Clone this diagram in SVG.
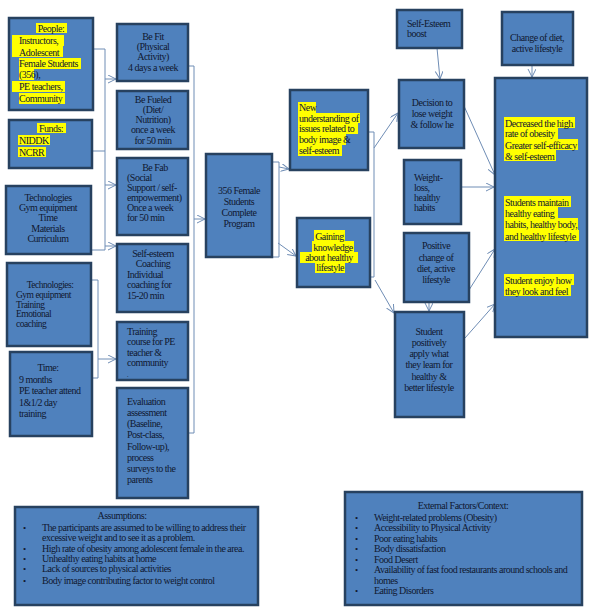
<svg xmlns="http://www.w3.org/2000/svg" width="599" height="615" viewBox="0 0 599 615">
<defs>
<style>
.box{fill:#4F81BD;stroke:#27415F;stroke-width:2.5}
.t{font-family:"Liberation Serif",serif;font-size:10px;letter-spacing:-0.5px;fill:#101830}
.c{text-anchor:middle}
.hl{fill:#FFFF00}
.conn{stroke:#6F8DB5;stroke-width:1;fill:none}
.bul{font-size:9px;letter-spacing:0}
</style>
<marker id="ah" markerWidth="9" markerHeight="9" refX="8" refY="4" orient="auto" markerUnits="userSpaceOnUse">
<path d="M0,0 L8,4 L0,8" fill="none" stroke="#6F8DB5" stroke-width="1"/>
</marker>
</defs>
<rect width="599" height="615" fill="#ffffff"/>

<g id="connectors">
<polyline class="conn" points="93,49 105,49 105,250 91,250"/>
<line class="conn" x1="92" y1="151" x2="105" y2="151" stroke-width="2"/>
<line class="conn" x1="105" y1="79" x2="116" y2="79" marker-end="url(#ah)"/>
<line class="conn" x1="105" y1="185" x2="116" y2="185" marker-end="url(#ah)"/>
<line class="conn" x1="105" y1="246" x2="116" y2="246" marker-end="url(#ah)"/>
<polyline class="conn" points="91,280 98,280 98,378 92,378"/>
<line class="conn" x1="98" y1="359" x2="116" y2="359" marker-end="url(#ah)"/>
<polyline class="conn" points="188,66 194,66 194,433 188,433"/>
<line class="conn" x1="194" y1="219" x2="205" y2="219" marker-end="url(#ah)"/>
<polyline class="conn" points="272,162 279,162 279,257 272,257"/>
<line class="conn" x1="279" y1="167" x2="289" y2="169" marker-end="url(#ah)"/>
<line class="conn" x1="278" y1="243" x2="296" y2="256" marker-end="url(#ah)"/>
<polyline class="conn" points="368,132 374,132 374,277 370,277"/>
<line class="conn" x1="374" y1="148" x2="398" y2="113" marker-end="url(#ah)"/>
<line class="conn" x1="375" y1="280" x2="394" y2="313" marker-end="url(#ah)"/>
<line class="conn" x1="437" y1="48" x2="440" y2="79" marker-end="url(#ah)"/>
<line class="conn" x1="532" y1="65" x2="532" y2="77" marker-end="url(#ah)"/>
<line class="conn" x1="464" y1="106" x2="495" y2="175" marker-end="url(#ah)"/>
<line class="conn" x1="461" y1="187" x2="494" y2="187" marker-end="url(#ah)"/>
<line class="conn" x1="469" y1="290" x2="495" y2="249" marker-end="url(#ah)"/>
<line class="conn" x1="429" y1="302" x2="429" y2="311" marker-end="url(#ah)"/>
<line class="conn" x1="465" y1="338" x2="495" y2="304" marker-end="url(#ah)"/>
</g>

<g id="people">
<rect class="box" x="9" y="18" width="84" height="92"/>
<rect class="hl" x="36" y="23" width="31" height="10"/>
<rect class="hl" x="12" y="35" width="52" height="11"/>
<rect class="hl" x="12" y="46" width="51" height="11"/>
<rect class="hl" x="19" y="58" width="62" height="11"/>
<rect class="hl" x="19" y="69" width="15" height="11"/>
<rect class="hl" x="12" y="81" width="53" height="11"/>
<rect class="hl" x="19" y="93" width="46" height="11"/>
<text class="t"><tspan class="c" x="51" y="31.5">People:</tspan><tspan x="19" y="43.5">Instructors,</tspan><tspan x="19" y="55.5">Adolescent</tspan><tspan x="19" y="66.5">Female Students</tspan><tspan x="19" y="77.5">(356),</tspan><tspan x="19" y="89.5">PE teachers,</tspan><tspan x="19" y="102">Community</tspan></text>
</g>

<g id="funds">
<rect class="box" x="9" y="120" width="83" height="48"/>
<rect class="hl" x="37" y="123" width="29" height="10"/>
<rect class="hl" x="18" y="135" width="32" height="10"/>
<rect class="hl" x="18" y="147" width="28" height="10"/>
<text class="t"><tspan class="c" x="51" y="131.5">Funds:</tspan><tspan x="19" y="143.5">NIDDK</tspan><tspan x="19" y="155.5">NCRR</tspan></text>
</g>

<g id="tech1">
<rect class="box" x="6" y="186" width="85" height="68"/>
<text class="t c"><tspan x="48" y="200.5">Technologies</tspan><tspan x="48" y="210.5">Gym equipment</tspan><tspan x="48" y="220.5">Time</tspan><tspan x="48" y="231.5">Materials</tspan><tspan x="48" y="241.5">Curriculum</tspan></text>
</g>

<g id="tech2">
<rect class="box" x="7" y="263" width="84" height="83"/>
<text class="t" style="font-size:9.5px"><tspan class="c" x="50" y="287.5">Technologies:</tspan><tspan x="16" y="297.5">Gym equipment</tspan><tspan x="16" y="307.5">Training</tspan><tspan x="16" y="317">Emotional</tspan><tspan x="16" y="326.5">coaching</tspan></text>
</g>

<g id="time">
<rect class="box" x="10" y="352" width="82" height="84"/>
<text class="t"><tspan class="c" x="48" y="370.5">Time:</tspan><tspan x="19" y="382.5">9 months</tspan><tspan x="19" y="393.5">PE teacher attend</tspan><tspan x="19" y="405.5">1&amp;1/2 day</tspan><tspan x="19" y="416.5">training</tspan></text>
</g>

<g id="befit">
<rect class="box" x="117" y="24" width="71" height="57"/>
<text class="t c"><tspan x="153" y="39.5">Be Fit</tspan><tspan x="153" y="49.5">(Physical</tspan><tspan x="153" y="59.5">Activity)</tspan><tspan x="153" y="70.5">4 days a week</tspan></text>
</g>

<g id="befueled">
<rect class="box" x="117" y="91" width="71" height="58"/>
<text class="t c"><tspan x="153" y="103">Be Fueled</tspan><tspan x="153" y="113">(Diet/</tspan><tspan x="153" y="123">Nutrition)</tspan><tspan x="153" y="133">once a week</tspan><tspan x="153" y="143.5">for 50 min</tspan></text>
</g>

<g id="befab">
<rect class="box" x="117" y="158" width="71" height="77"/>
<text class="t"><tspan class="c" x="155" y="170.5">Be Fab</tspan><tspan x="127" y="180.5">(Social</tspan><tspan x="127" y="190.5">Support / self-</tspan><tspan x="127" y="201">empowerment)</tspan><tspan x="127" y="211">Once a week</tspan><tspan x="127" y="221">for 50 min</tspan></text>
</g>

<g id="selfesteem">
<rect class="box" x="117" y="244" width="71" height="68"/>
<text class="t"><tspan class="c" x="153" y="256.5">Self-esteem</tspan><tspan class="c" x="153" y="267">Coaching</tspan><tspan x="127" y="277.5">Individual</tspan><tspan x="127" y="288">coaching for</tspan><tspan x="127" y="298.5">15-20 min</tspan></text>
</g>

<g id="training">
<rect class="box" x="117" y="322" width="71" height="58"/>
<text class="t"><tspan x="127" y="335">Training</tspan><tspan x="127" y="345">course for PE</tspan><tspan x="127" y="355.5">teacher &amp;</tspan><tspan x="127" y="366">community</tspan></text>
<text class="t" style="font-size:6px"><tspan x="127" y="377">.</tspan></text>
</g>

<g id="evaluation">
<rect class="box" x="117" y="388" width="71" height="110"/>
<text class="t"><tspan x="127" y="404.5">Evaluation</tspan><tspan x="127" y="416">assessment</tspan><tspan x="127" y="426.5">(Baseline,</tspan><tspan x="127" y="438">Post-class,</tspan><tspan x="127" y="450">Follow-up),</tspan><tspan x="127" y="461">process</tspan><tspan x="127" y="472">surveys to the</tspan><tspan x="127" y="483">parents</tspan></text>
</g>

<g id="female356">
<rect class="box" x="206" y="154" width="66" height="103"/>
<text class="t c"><tspan x="239" y="193.5">356 Female</tspan><tspan x="239" y="204.5">Students</tspan><tspan x="239" y="215.5">Complete</tspan><tspan x="239" y="226.5">Program</tspan></text>
</g>

<g id="newunderstanding">
<rect class="box" x="290" y="90" width="78" height="80"/>
<rect class="hl" x="298" y="102" width="18" height="11"/>
<rect class="hl" x="298" y="113" width="62" height="10"/>
<rect class="hl" x="298" y="123" width="60" height="11"/>
<rect class="hl" x="298" y="134" width="48" height="11"/>
<rect class="hl" x="298" y="145" width="44" height="11"/>
<text class="t"><tspan x="299" y="110.5">New</tspan><tspan x="299" y="121.5">understanding of</tspan><tspan x="299" y="131.5">issues related to</tspan><tspan x="299" y="143">body image &amp;</tspan><tspan x="299" y="154">self-esteem</tspan></text>
</g>

<g id="gaining">
<rect class="box" x="297" y="218" width="73" height="69"/>
<rect class="hl" x="314" y="230" width="31" height="11"/>
<rect class="hl" x="312" y="241" width="42" height="11"/>
<rect class="hl" x="300" y="252" width="58" height="11"/>
<rect class="hl" x="315" y="263" width="30" height="10"/>
<text class="t c"><tspan x="329.5" y="239.5">Gaining</tspan><tspan x="333" y="250.5">knowledge</tspan><tspan x="329" y="260.5">about healthy</tspan><tspan x="330" y="271">lifestyle</tspan></text>
</g>

<g id="seboost">
<rect class="box" x="397" y="10" width="65" height="38"/>
<text class="t"><tspan x="407" y="26.5">Self-Esteem</tspan><tspan x="407" y="36.5">boost</tspan></text>
</g>

<g id="changediet">
<rect class="box" x="502" y="12" width="71" height="53"/>
<text class="t c"><tspan x="537" y="40.5">Change of diet,</tspan><tspan x="537" y="51.5">active lifestyle</tspan></text>
</g>

<g id="decision">
<rect class="box" x="399" y="80" width="65" height="68"/>
<text class="t c"><tspan x="432" y="105.5">Decision to</tspan><tspan x="432" y="116.5">lose weight</tspan><tspan x="432" y="127.5">&amp; follow he</tspan></text>
</g>

<g id="weightloss">
<rect class="box" x="404" y="160" width="57" height="64"/>
<text class="t"><tspan x="414" y="180.5">Weight-</tspan><tspan x="414" y="190.5">loss,</tspan><tspan x="414" y="200.5">healthy</tspan><tspan x="414" y="210.5">habits</tspan></text>
</g>

<g id="positivechange">
<rect class="box" x="404" y="233" width="65" height="69"/>
<text class="t c"><tspan x="436" y="248.5">Positive</tspan><tspan x="436" y="260.5">change of</tspan><tspan x="436" y="271.5">diet, active</tspan><tspan x="436" y="282.5">lifestyle</tspan></text>
</g>

<g id="studentapply">
<rect class="box" x="395" y="312" width="69" height="105"/>
<text class="t c"><tspan x="429" y="334.5">Student</tspan><tspan x="429" y="345.5">positively</tspan><tspan x="429" y="356.5">apply what</tspan><tspan x="429" y="368">they learn for</tspan><tspan x="429" y="379.5">healthy &amp;</tspan><tspan x="429" y="390.5">better lifestyle</tspan></text>
</g>

<g id="outcomes">
<rect class="box" x="495" y="78" width="92" height="259"/>
<rect class="hl" x="504" y="117" width="71" height="11"/>
<rect class="hl" x="504" y="128" width="54" height="11"/>
<rect class="hl" x="504" y="139" width="74" height="11"/>
<rect class="hl" x="504" y="150" width="52" height="11"/>
<rect class="hl" x="504" y="196" width="67" height="11"/>
<rect class="hl" x="504" y="207" width="54" height="11"/>
<rect class="hl" x="504" y="218" width="74" height="12"/>
<rect class="hl" x="504" y="230" width="75" height="11"/>
<rect class="hl" x="504" y="274" width="70" height="11"/>
<rect class="hl" x="504" y="285" width="67" height="11"/>
<text class="t"><tspan x="505" y="126.5">Decreased the high</tspan><tspan x="505" y="136.5">rate of obesity</tspan><tspan x="505" y="148.5">Greater self-efficacy</tspan><tspan x="505" y="159.5">&amp; self-esteem</tspan><tspan x="505" y="205.5">Students maintain</tspan><tspan x="505" y="216.5">healthy eating</tspan><tspan x="505" y="227.5">habits, healthy body,</tspan><tspan x="505" y="239.5">and healthy lifestyle</tspan><tspan x="505" y="283.5">Student enjoy how</tspan><tspan x="505" y="294.5">they look and feel</tspan></text>
</g>

<g id="assumptions">
<rect class="box" x="15" y="507" width="243" height="98"/>
<text class="t"><tspan class="c" x="122" y="518.5">Assumptions:</tspan><tspan x="42" y="530.5">The participants are assumed to be willing to address their</tspan><tspan x="42" y="540.5">excessive weight and to see it as a problem.</tspan><tspan x="42" y="551.5">High rate of obesity among adolescent female in the area.</tspan><tspan x="42" y="561.5">Unhealthy eating habits at home</tspan><tspan x="42" y="571.5">Lack of sources to physical activities</tspan><tspan x="42" y="583.5">Body image contributing factor to weight control</tspan></text>
<text class="t bul"><tspan x="23" y="530.5">•</tspan><tspan x="23" y="551.5">•</tspan><tspan x="23" y="561.5">•</tspan><tspan x="23" y="571.5">•</tspan><tspan x="23" y="583.5">•</tspan></text>
</g>

<g id="external">
<rect class="box" x="345" y="492" width="237" height="113"/>
<text class="t"><tspan class="c" x="463" y="508.5">External Factors/Context:</tspan><tspan x="374" y="520.5">Weight-related problems (Obesity)</tspan><tspan x="374" y="531">Accessibility to Physical Activity</tspan><tspan x="374" y="541.5">Poor eating habits</tspan><tspan x="374" y="552">Body dissatisfaction</tspan><tspan x="374" y="562.5">Food Desert</tspan><tspan x="374" y="573">Availability of fast food restaurants around schools and</tspan><tspan x="374" y="583.5">homes</tspan><tspan x="374" y="594">Eating Disorders</tspan></text>
<text class="t bul"><tspan x="355" y="520.5">•</tspan><tspan x="355" y="531">•</tspan><tspan x="355" y="541.5">•</tspan><tspan x="355" y="552">•</tspan><tspan x="355" y="562.5">•</tspan><tspan x="355" y="573">•</tspan><tspan x="355" y="594">•</tspan></text>
</g>
</svg>
